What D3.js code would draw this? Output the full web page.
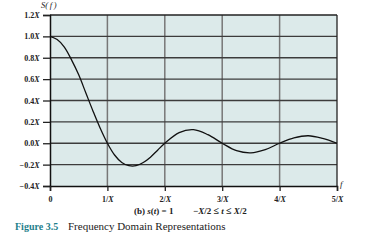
<!DOCTYPE html>
<html>
<head>
<meta charset="utf-8">
<script src="https://cdn.jsdelivr.net/npm/d3@7"></script>
<style>
  body { margin: 0; background: #fff; }
  text { font-family: "Liberation Serif", "DejaVu Serif", serif; }
</style>
</head>
<body>
<div id="chart"></div>
<script>
// values (in units of X)
const freqs = [0, 0.125, 0.25, 0.375, 0.5, 0.625, 0.75, 0.875, 1, 1.125, 1.25, 1.375, 1.5, 1.625, 1.75, 1.875,
  2, 2.25, 2.5, 2.75, 3, 3.25, 3.5, 3.75, 4, 4.25, 4.5, 4.75, 5];
const amps = [1.0, 0.97, 0.9, 0.78, 0.64, 0.47, 0.3, 0.14, 0, -0.11, -0.18, -0.21, -0.21, -0.18, -0.13, -0.065,
  0, 0.1, 0.127, 0.08, 0, -0.07, -0.09, -0.06, 0, 0.05, 0.07, 0.045, 0];
const yTicks = [-0.4, -0.2, 0, 0.2, 0.4, 0.6, 0.8, 1.0, 1.2];
const xTicks = [0, 1, 2, 3, 4, 5];

const W = 380, H = 246;
const margin = { top: 15, right: 43, bottom: 60, left: 50 };
const width = W - margin.left - margin.right;
const height = H - margin.top - margin.bottom;

const svg = d3.select("#chart").append("svg")
  .attr("width", W).attr("height", H);

const g = svg.append("g")
  .attr("transform", `translate(${margin.left},${margin.top})`);

const x = d3.scaleLinear().domain([0, 5]).range([0, width]);
const y = d3.scaleLinear().domain([-0.4, 1.2]).range([height, 0]);

// background
g.append("rect")
  .attr("width", width).attr("height", height)
  .attr("fill", "#dceaea");

// vertical grid
g.selectAll(".vgrid")
  .data(xTicks.slice(1, -1))
  .enter().append("line")
  .attr("x1", d => x(d)).attr("x2", d => x(d))
  .attr("y1", 0).attr("y2", height)
  .attr("stroke", "#777").attr("stroke-width", 1.5);

// horizontal grid
g.selectAll(".hgrid")
  .data(yTicks.slice(1, -1))
  .enter().append("line")
  .attr("x1", 0).attr("x2", width)
  .attr("y1", d => y(d)).attr("y2", d => y(d))
  .attr("stroke", "#3c3c3c").attr("stroke-width", 1.3);

// frame
g.append("line").attr("x1", 0).attr("x2", width).attr("y1", 0).attr("y2", 0)
  .attr("stroke", "#222").attr("stroke-width", 1.3);
g.append("line").attr("x1", width).attr("x2", width).attr("y1", 0).attr("y2", height)
  .attr("stroke", "#222").attr("stroke-width", 1.3);

// y axis
const yAxis = g.append("g")
  .call(d3.axisLeft(y).tickValues(yTicks).tickSize(7).tickFormat(""));
yAxis.select(".domain").attr("stroke", "#111").attr("stroke-width", 1.5);
yAxis.selectAll(".tick line").attr("stroke", "#222").attr("stroke-width", 1.3);

yAxis.selectAll(".tick").append("text")
  .attr("x", -10.5).attr("dy", "0.32em")
  .attr("text-anchor", "end")
  .attr("fill", "#222")
  .style("font-size", "8px").style("font-weight", "bold")
  .each(function (d) {
    const t = d3.select(this);
    t.append("tspan").text((d < 0 ? "\u2212" : "") + Math.abs(d).toFixed(1));
    t.append("tspan").style("font-style", "italic").text("X");
  });

// x axis
const xAxis = g.append("g")
  .attr("transform", `translate(0,${height})`)
  .call(d3.axisBottom(x).tickValues(xTicks).tickSize(5).tickFormat(""));
xAxis.select(".domain").attr("stroke", "#111").attr("stroke-width", 1.5);
xAxis.selectAll(".tick line").attr("stroke", "#222").attr("stroke-width", 1.3);

xAxis.selectAll(".tick").append("text")
  .attr("y", 16)
  .attr("text-anchor", "middle")
  .attr("fill", "#222")
  .style("font-size", "8px").style("font-weight", "bold")
  .each(function (d) {
    const t = d3.select(this);
    if (d === 0) { t.text("0"); return; }
    t.append("tspan").text(d + "/");
    t.append("tspan").style("font-style", "italic").text("X");
  });

// curve
const line = d3.line()
  .x((d, i) => x(freqs[i]))
  .y(d => y(d))
  .curve(d3.curveCatmullRom);

g.append("path")
  .datum(amps)
  .attr("d", line)
  .attr("fill", "none")
  .attr("stroke", "#111")
  .attr("stroke-width", 1.3);

// axis titles
svg.append("text")
  .attr("x", 41).attr("y", 7.5)
  .attr("fill", "#222")
  .style("font-size", "8.5px").style("font-style", "italic")
  .text("S(\u2009f\u2009)");

svg.append("text")
  .attr("x", 340).attr("y", 187)
  .attr("fill", "#222")
  .style("font-size", "9px").style("font-style", "italic")
  .text("f");

// subtitle
const sub = svg.append("text")
  .attr("x", 134).attr("y", 213.5)
  .attr("fill", "#222")
  .style("font-size", "9px").style("font-weight", "bold");
sub.append("tspan").text("(b) ");
sub.append("tspan").style("font-style", "italic").text("s");
sub.append("tspan").text("(");
sub.append("tspan").style("font-style", "italic").text("t");
sub.append("tspan").text(") = 1");
sub.append("tspan").attr("x", 193).text("\u2212");
sub.append("tspan").style("font-style", "italic").text("X");
sub.append("tspan").text("/2 ");
sub.append("tspan").style("font-size", "10px").text("\u2264");
sub.append("tspan").text(" ");
sub.append("tspan").style("font-style", "italic").text("t");
sub.append("tspan").text(" ");
sub.append("tspan").style("font-size", "10px").text("\u2264");
sub.append("tspan").text(" ");
sub.append("tspan").style("font-style", "italic").text("X");
sub.append("tspan").text("/2");

// caption
const cap = svg.append("text")
  .attr("x", 15).attr("y", 229.5);
cap.append("tspan").attr("fill", "#1f7f8c").style("font-weight", "bold")
  .style("font-size", "10px").text("Figure 3.5");
cap.append("tspan").attr("x", 68).attr("fill", "#222")
  .style("font-size", "11px").text("Frequency Domain Representations");
</script>
</body>
</html>
